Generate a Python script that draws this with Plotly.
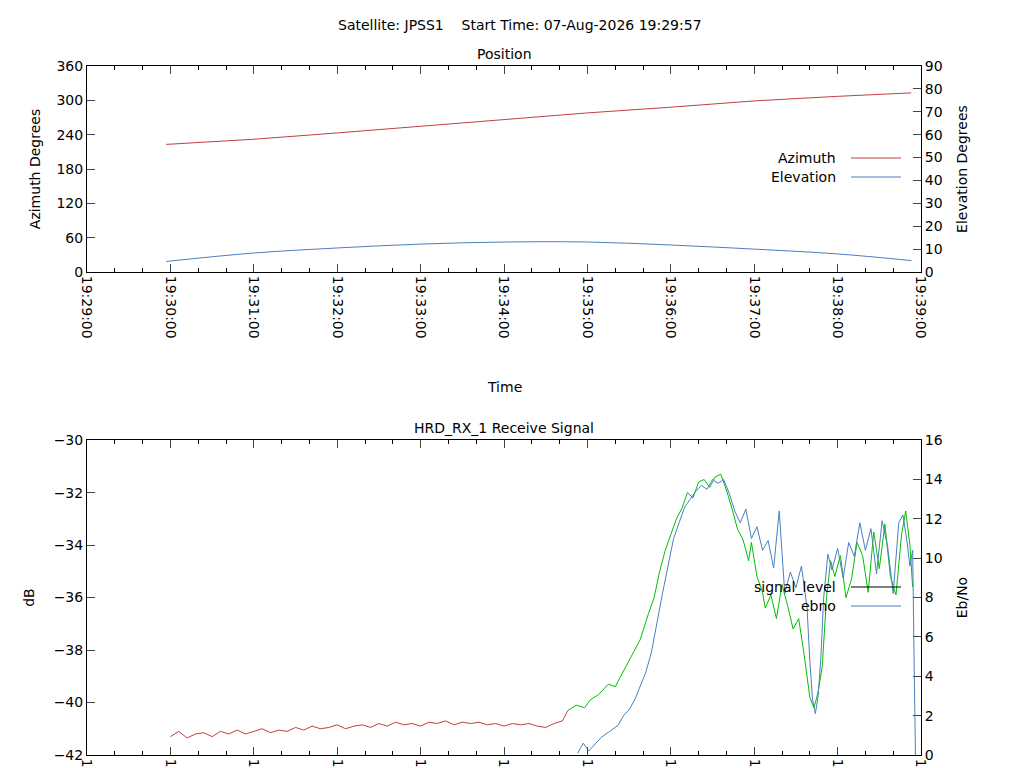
import pandas as pd
import plotly.graph_objs as go

base = pd.Timestamp('2026-08-07 19:29:00')

# position (seconds after 19:29:00)
pos_t = [57, 120, 180, 240, 300, 360, 420, 480, 540, 593]
azimuth = [223, 232, 243, 255, 266, 278, 288, 299, 307, 313]
elevation = [4.6, 8.3, 10.5, 12.2, 13.1, 13.1, 11.8, 10.0, 7.9, 5.0]

# signal level, unlocked part (red)
red_t = list(range(60, 343, 6)) + [346]
red_v = [-41.3, -41.1, -41.35, -41.2, -41.15, -41.3, -41.1, -41.2, -41.05, -41.2, -41.1, -41.0,
         -41.15, -41.05, -41.1, -40.95, -41.05, -40.9, -41.0, -40.95, -40.85, -41.0, -40.9, -40.85,
         -40.95, -40.8, -40.9, -40.75, -40.85, -40.8, -40.9, -40.75, -40.8, -40.7, -40.85, -40.75,
         -40.8, -40.75, -40.85, -40.8, -40.9, -40.8, -40.85, -40.8, -40.9, -40.95, -40.8, -40.7, -40.3]

# signal level, locked part (green)
green_t = [346, 352, 358, 362, 368, 375, 380, 385, 389, 394, 398, 404, 408, 412, 416, 420, 424,
           428, 432, 436, 440, 444, 448, 452, 456, 460, 464, 468, 472, 476, 478, 482, 486, 488,
           492, 496, 500, 504, 508, 512, 516, 520, 523, 526, 529, 532, 535, 538, 542, 546, 550,
           554, 558, 562, 566, 570, 574, 578, 582, 586, 589, 592, 594]
green_v = [-40.3, -40.1, -40.2, -39.9, -39.7, -39.3, -39.4, -38.9, -38.5, -38.0, -37.6, -36.6,
           -36.0, -35.0, -34.2, -33.6, -33.0, -32.6, -32.0, -32.2, -31.6, -31.5, -31.8, -31.4,
           -31.3, -31.9, -32.6, -33.4, -33.8, -34.6, -33.9, -35.2, -35.8, -36.4, -35.9, -36.8,
           -35.5, -36.3, -37.2, -36.8, -38.2, -39.8, -40.2, -39.6, -38.6, -36.0, -34.6, -35.2,
           -34.4, -36.0, -35.3, -33.9, -34.4, -35.8, -33.5, -34.9, -33.2, -35.2, -35.9, -33.6,
           -32.7, -34.0, -35.6]

# Eb/No
ebno_t = [353, 357, 361, 365, 370, 376, 382, 386, 390, 394, 398, 402, 406, 410, 414, 418, 422,
          426, 430, 434, 438, 442, 446, 450, 454, 458, 462, 466, 470, 474, 478, 482, 486, 490,
          494, 498, 502, 506, 510, 514, 518, 520, 522, 524, 526, 528, 530, 533, 536, 540, 544,
          548, 552, 556, 560, 564, 568, 572, 576, 580, 584, 587, 590, 592, 594, 595, 596]
ebno_v = [0.1, 0.6, 0.2, 0.5, 0.9, 1.2, 1.5, 2.0, 2.3, 2.8, 3.5, 4.2, 5.2, 6.8, 8.2, 9.6, 11.0,
          11.8, 12.6, 13.0, 13.4, 13.7, 13.5, 14.0, 13.8, 14.0, 13.3, 12.4, 11.8, 12.5, 11.0, 11.6,
          10.4, 10.9, 9.5, 12.4, 8.2, 9.3, 8.5, 9.6, 7.5, 4.8, 2.8, 2.1, 3.0, 5.0, 8.0, 10.2, 9.4,
          10.5, 9.0, 10.8, 10.1, 11.8, 10.4, 11.5, 9.2, 11.9, 10.6, 8.2, 11.8, 12.2, 10.8, 9.6,
          10.4, 5.0, 0.0]

RED = '#c04040'
BLUE = '#4a7fc0'
GREEN = '#00c000'


def tt(secs):
    return [base + pd.Timedelta(seconds=s) for s in secs]


def line(xs, ys, col, xa, ya, shape='linear'):
    return go.Scatter(x=tt(xs), y=ys, mode='lines', line=dict(color=col, width=1, shape=shape),
                      xaxis=xa, yaxis=ya)


fig = go.Figure()
fig.add_trace(line(pos_t, azimuth, RED, 'x', 'y'))
fig.add_trace(line(pos_t, elevation, BLUE, 'x', 'y2', 'spline'))
fig.add_trace(line(red_t, red_v, RED, 'x2', 'y3'))
fig.add_trace(line(green_t, green_v, GREEN, 'x2', 'y3'))
fig.add_trace(line(ebno_t, ebno_v, BLUE, 'x2', 'y4'))

xr = [base, base + pd.Timedelta(minutes=10)]
ax = dict(range=xr, type='date', tickformat='%H:%M:%S', dtick=60000, tickangle=90,
          ticks='inside', ticklen=8, mirror='ticks', showline=True, linecolor='black',
          showgrid=False, zeroline=False, automargin=False,
          minor=dict(dtick=20000, ticks='inside', ticklen=4, tickcolor='black'))
yax = dict(ticks='inside', ticklen=8, showline=True, linecolor='black', showgrid=False,
           zeroline=False, automargin=False)
tf = dict(size=14)

fig.update_layout(
    width=1024, height=768, showlegend=False,
    plot_bgcolor='white', paper_bgcolor='white',
    font=dict(family='DejaVu Sans', size=14, color='black'),
    margin=dict(l=79, r=111, t=58, b=21),
    xaxis=dict(ax, domain=[0, 1], anchor='y'),
    yaxis=dict(yax, domain=[0.701, 1], range=[0, 360], dtick=60,
               title=dict(text='Azimuth Degrees', font=tf, standoff=12)),
    yaxis2=dict(yax, overlaying='y', side='right', range=[0, 90], dtick=10,
                title=dict(text='Elevation Degrees', font=tf)),
    xaxis2=dict(ax, domain=[0, 1], anchor='y3'),
    yaxis3=dict(yax, domain=[0, 0.457], range=[-42, -30], dtick=2,
                title=dict(text='dB', font=tf)),
    yaxis4=dict(yax, overlaying='y3', side='right', range=[0, 16], dtick=2,
                title=dict(text='Eb/No', font=tf)),
)

# text placed in pixel coordinates of the 1024x768 canvas
anns = [
    ('Satellite: JPSS1    Start Time: 07-Aug-2026 19:29:57', 512, 17, 'center'),
    ('Position', 496, 46, 'center'),
    ('Time', 496, 379, 'center'),
    ('HRD_RX_1 Receive Signal', 496, 420, 'center'),
    ('Azimuth', 830, 150, 'right'),
    ('Elevation', 830, 169, 'right'),
    ('signal_level', 830, 579, 'right'),
    ('ebno', 830, 598, 'right'),
]
for text, px, py, al in anns:
    fig.add_annotation(text=text, x=(px - 79) / 834, y=(747 - py) / 689, xref='paper', yref='paper',
                       xanchor=al, yanchor='middle', showarrow=False)

for py, col in [(150, RED), (169, BLUE), (579, 'black'), (598, BLUE)]:
    yy = (747 - py) / 689
    fig.add_shape(type='line', xref='paper', yref='paper', x0=(843 - 79) / 834, x1=(893 - 79) / 834,
                  y0=yy, y1=yy, line=dict(color=col, width=1))

fig.write_html('out.html')
